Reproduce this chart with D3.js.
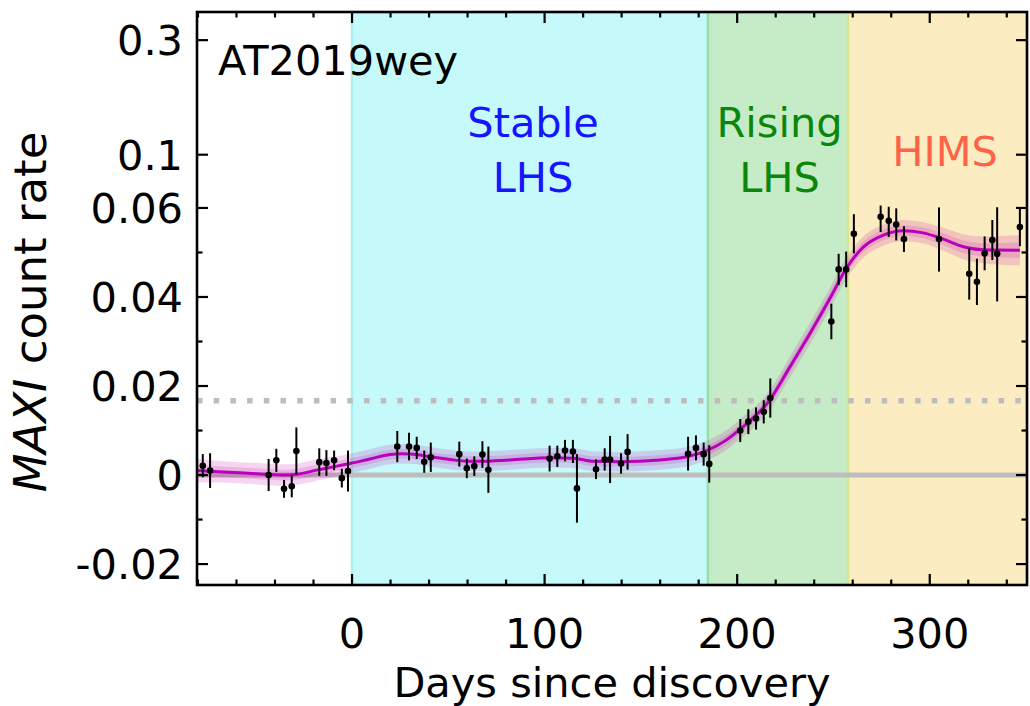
<!DOCTYPE html>
<html>
<head>
<meta charset="utf-8">
<script src="https://cdn.jsdelivr.net/npm/d3@7"></script>
<style>
  body { margin: 0; background: #fff; }
  svg text { font-family: "DejaVu Sans", sans-serif; }
</style>
</head>
<body>
<div id="chart"></div>
<script>
// MAXI observations (days since discovery, count rate, 1-sigma error)
var obsDay  = [-77.5, -73.7, -43.3, -39.3, -35.3, -31.3, -28.9, -17.0, -13.3, -9.3, -5.3, -2.1,
               23.5, 29.6, 33.6, 37.5, 40.9, 55.7, 59.6, 63.5, 67.7, 70.8,
               102.6, 106.6, 110.6, 114.7, 116.8, 126.7, 131.2, 134.0, 139.7, 143.1,
               174.5, 178.6, 182.6, 185.5,
               201.6, 205.8, 209.8, 213.8, 217.2, 248.9, 252.7, 256.6,
               260.6, 274.5, 278.7, 282.6, 286.6, 304.8, 320.5, 324.5, 328.5, 332.5, 335.0, 346.8];
var obsRate = [0.0021, 0.0010, 0.0000, 0.0033, -0.0031, -0.0025, 0.0054, 0.0029, 0.0027, 0.0033, -0.0007, 0.0009,
               0.0064, 0.0064, 0.0061, 0.0030, 0.0040, 0.0047, 0.0015, 0.0020, 0.0046, 0.0012,
               0.0037, 0.0042, 0.0055, 0.0053, -0.0030, 0.0013, 0.0035, 0.0035, 0.0026, 0.0052,
               0.0048, 0.0061, 0.0047, 0.0025,
               0.0100, 0.0120, 0.0127, 0.0142, 0.0173, 0.0345, 0.0462, 0.0462,
               0.0542, 0.0580, 0.0571, 0.0563, 0.0530, 0.0530, 0.0452, 0.0434, 0.0498, 0.0528, 0.0497, 0.0557];
var obsErr  = [0.0026, 0.0039, 0.0036, 0.0026, 0.0020, 0.0025, 0.0053, 0.0031, 0.0029, 0.0022, 0.0021, 0.0046,
               0.0035, 0.0031, 0.0025, 0.0025, 0.0033, 0.0028, 0.0022, 0.0022, 0.0030, 0.0052,
               0.0029, 0.0024, 0.0024, 0.0026, 0.0077, 0.0022, 0.0025, 0.0053, 0.0023, 0.0040,
               0.0038, 0.0028, 0.0026, 0.0042,
               0.0026, 0.0028, 0.0025, 0.0026, 0.0044, 0.0040, 0.0035, 0.0040,
               0.0044, 0.0034, 0.0036, 0.0036, 0.0029, 0.0073, 0.0058, 0.0052, 0.0038, 0.0045, 0.0107, 0.0043];

// Gaussian-process fit: mean and sigma
var gpDay  = [-80.5, -66.8, -49.5, -35.7, -28.7, -18.3, -7.9, -1.0, 9.3, 19.7, 26.6, 33.6, 40.5, 50.9, 59.6,
              66.5, 82.0, 102.8, 114.9, 125.3, 139.1, 159.9, 173.8, 184.2, 194.5, 201.5, 217.0, 227.4,
              237.8, 248.2, 256.8, 265.5, 275.9, 286.2, 296.6, 307.0, 317.4, 327.8, 346.8];
var gpRate = [0.0010, 0.0007, 0.0003, 0.0000, 0.0002, 0.0011, 0.0020, 0.0026, 0.0036, 0.0046, 0.0048, 0.0046,
              0.0041, 0.0035, 0.0031, 0.0031, 0.0034, 0.0039, 0.0038, 0.0031, 0.0030, 0.0034, 0.0041,
              0.0055, 0.0079, 0.0103, 0.0169, 0.0243, 0.0318, 0.0397, 0.0465, 0.0512, 0.0539, 0.0549,
              0.0544, 0.0530, 0.0513, 0.0506, 0.0505];
var gpSig  = [0.0013, 0.0012, 0.0012, 0.0012, 0.0012, 0.0012, 0.0011, 0.0011, 0.0011, 0.0011, 0.0011, 0.0011,
              0.0011, 0.0011, 0.0011, 0.0011, 0.0011, 0.0011, 0.0011, 0.0011, 0.0011, 0.0011, 0.0011,
              0.0011, 0.0011, 0.0011, 0.0011, 0.0012, 0.0012, 0.0012, 0.0012, 0.0012, 0.0012, 0.0012,
              0.0012, 0.0013, 0.0014, 0.0015, 0.0017];

// spectral states
var stageStart = [0, 184.8, 257.5];
var stageEnd   = [184.8, 257.5, 350.5];
var stageLines = [["Stable", "LHS"], ["Rising", "LHS"], ["HIMS"]];
var stageLabelDay = [94, 222, 308];

var xTicks = [0, 100, 200, 300];
var xMinor = [-80, -60, -40, -20, 20, 40, 60, 80, 120, 140, 160, 180, 220, 240, 260, 280, 320, 340];
var yTicks = [-0.02, 0, 0.02, 0.04, 0.06, 0.1, 0.3];
var yTickLabels = ["-0.02", "0", "0.02", "0.04", "0.06", "0.1", "0.3"];
var yMinor = [-0.01, 0.01, 0.03, 0.05];
var thresholdRate = 0.0167;

var totalWidth = 1030, totalHeight = 706;
var margin = { top: 12, right: 3, bottom: 121, left: 197 };
var width = totalWidth - margin.left - margin.right;
var height = totalHeight - margin.top - margin.bottom;
var FS = 41.5;

// linear below 0.06, log above it
var LIN_MAX = 0.06, DECADE = 240 / 4450;
function tf(v) { return v <= LIN_MAX ? v : LIN_MAX + DECADE * Math.log10(v / LIN_MAX); }

var x = d3.scaleLinear().domain([-80.5, 350.5]).range([0, width]);
var yLin = d3.scaleLinear().domain([tf(-0.0247), tf(0.393)]).range([height, 0]);
var y = function(v) { return yLin(tf(v)); };

var svg = d3.select("#chart").append("svg")
  .attr("width", totalWidth)
  .attr("height", totalHeight);

var defs = svg.append("defs");
defs.append("clipPath").attr("id", "clip")
  .append("rect").attr("width", width).attr("height", height);

var g = svg.append("g")
  .attr("transform", "translate(" + margin.left + "," + margin.top + ")");

var plot = g.append("g").attr("clip-path", "url(#clip)");

var stageFill = ["#c6f9f9", "#c5ecc6", "#fbecc1"];
var stageEdge = ["#a8f2f2", "#95e0aa", "#d6e68e"];
var stageText = ["#1515ff", "#0a870a", "#ff6347"];

stageStart.forEach(function(s, i) {
  plot.append("rect")
    .attr("x", x(s))
    .attr("y", 0)
    .attr("width", x(stageEnd[i]) - x(s))
    .attr("height", height)
    .attr("fill", stageFill[i]);
  plot.append("line")
    .attr("x1", x(s)).attr("x2", x(s))
    .attr("y1", 0).attr("y2", height)
    .attr("stroke", stageEdge[i])
    .attr("stroke-width", 2.5);
});

// zero line and detection threshold
plot.append("line")
  .attr("x1", 0).attr("x2", width)
  .attr("y1", y(0)).attr("y2", y(0))
  .attr("stroke", "#bdbdbd")
  .attr("stroke-width", 5);

plot.append("line")
  .attr("x1", 0).attr("x2", width)
  .attr("y1", y(thresholdRate)).attr("y2", y(thresholdRate))
  .attr("stroke", "#bdbdbd")
  .attr("stroke-width", 5.5)
  .attr("stroke-dasharray", "5.5,11.2");

// GP band
var gp = gpDay.map(function(d, i) { return { day: d, rate: gpRate[i], sig: gpSig[i] }; });

[2, 1].forEach(function(k) {
  var band = d3.area()
    .curve(d3.curveMonotoneX)
    .x(function(d) { return x(d.day); })
    .y0(function(d) { return y(d.rate - k * d.sig); })
    .y1(function(d) { return y(d.rate + k * d.sig); });
  plot.append("path")
    .datum(gp)
    .attr("d", band)
    .attr("fill", "#c81eb4")
    .attr("fill-opacity", 0.19);
});

var gpLine = d3.line()
  .curve(d3.curveMonotoneX)
  .x(function(d) { return x(d.day); })
  .y(function(d) { return y(d.rate); });

plot.append("path")
  .datum(gp)
  .attr("d", gpLine)
  .attr("fill", "none")
  .attr("stroke", "#bb00bb")
  .attr("stroke-width", 3);

// data points
var obs = obsDay.map(function(d, i) { return { day: d, rate: obsRate[i], err: obsErr[i] }; });

plot.selectAll(".ebar")
  .data(obs)
  .enter().append("line")
  .attr("class", "ebar")
  .attr("x1", function(d) { return x(d.day); })
  .attr("x2", function(d) { return x(d.day); })
  .attr("y1", function(d) { return y(d.rate - d.err); })
  .attr("y2", function(d) { return y(d.rate + d.err); })
  .attr("stroke", "#000")
  .attr("stroke-width", 2);

plot.selectAll(".pt")
  .data(obs)
  .enter().append("circle")
  .attr("class", "pt")
  .attr("cx", function(d) { return x(d.day); })
  .attr("cy", function(d) { return y(d.rate); })
  .attr("r", 3.3)
  .attr("fill", "#000");

// labels inside the plot
g.append("text")
  .attr("x", 21)
  .attr("y", 75 - margin.top)
  .attr("font-size", FS)
  .attr("fill", "#000")
  .text("AT2019wey");

stageLines.forEach(function(lines, i) {
  lines.forEach(function(t, j) {
    g.append("text")
      .attr("x", x(stageLabelDay[i]))
      .attr("y", (lines.length > 1 ? 137 + j * 55 : 166) - margin.top)
      .attr("text-anchor", "middle")
      .attr("font-size", FS)
      .attr("fill", stageText[i])
      .text(t);
  });
});

// axes: ticks point inward on all four sides
var MAJ = 11, MIN = 5.5;

var ax = g.append("g").attr("class", "ticks")
  .attr("stroke", "#000").attr("stroke-width", 2.2);

xTicks.concat(xMinor).forEach(function(t) {
  var len = xTicks.indexOf(t) >= 0 ? MAJ : MIN;
  ax.append("line").attr("x1", x(t)).attr("x2", x(t)).attr("y1", height).attr("y2", height - len);
  ax.append("line").attr("x1", x(t)).attr("x2", x(t)).attr("y1", 0).attr("y2", len);
});

yTicks.concat(yMinor).forEach(function(t) {
  var len = yTicks.indexOf(t) >= 0 ? MAJ : MIN;
  ax.append("line").attr("y1", y(t)).attr("y2", y(t)).attr("x1", 0).attr("x2", len);
  ax.append("line").attr("y1", y(t)).attr("y2", y(t)).attr("x1", width).attr("x2", width - len);
});

g.append("rect")
  .attr("width", width)
  .attr("height", height)
  .attr("fill", "none")
  .attr("stroke", "#000")
  .attr("stroke-width", 2.6);

g.selectAll(".xlab")
  .data(xTicks)
  .enter().append("text")
  .attr("class", "xlab")
  .attr("x", function(d) { return x(d); })
  .attr("y", height + 63)
  .attr("text-anchor", "middle")
  .attr("font-size", FS)
  .text(function(d) { return d; });

g.selectAll(".ylab")
  .data(yTicks)
  .enter().append("text")
  .attr("class", "ylab")
  .attr("x", -14)
  .attr("y", function(d) { return y(d); })
  .attr("dy", "0.36em")
  .attr("text-anchor", "end")
  .attr("font-size", FS)
  .text(function(d, i) { return yTickLabels[i]; });

g.append("text")
  .attr("x", width / 2)
  .attr("y", height + 112)
  .attr("text-anchor", "middle")
  .attr("font-size", FS)
  .text("Days since discovery");

var yl = g.append("text")
  .attr("transform", "translate(" + (-151) + "," + (312 - margin.top) + ") rotate(-90)")
  .attr("text-anchor", "middle")
  .attr("font-size", 45);
yl.append("tspan").attr("font-style", "italic").text("MAXI");
yl.append("tspan").text(" count rate");
</script>
</body>
</html>
